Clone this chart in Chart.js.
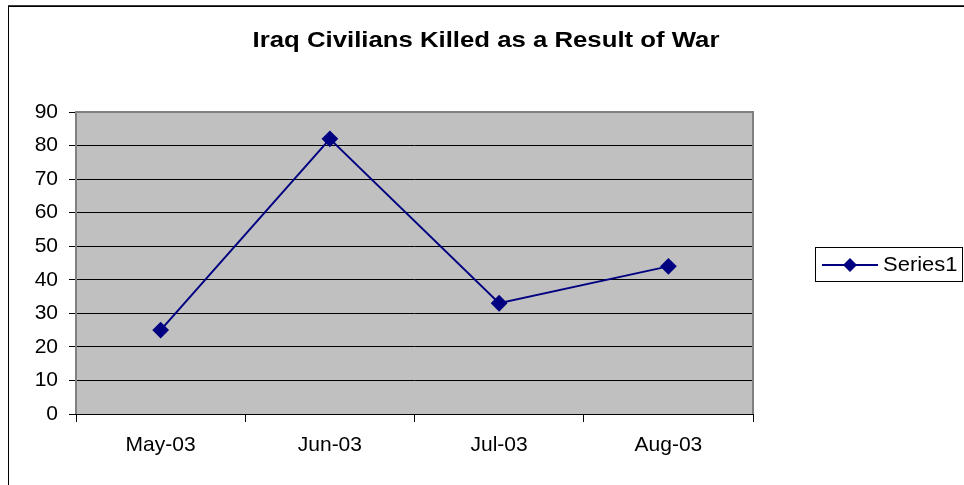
<!DOCTYPE html>
<html>
<head>
<meta charset="utf-8">
<script src="https://cdn.jsdelivr.net/npm/chart.js@4"></script>
<style>
  html, body { margin: 0; padding: 0; background: #fff; }
  #wrap { width: 964px; height: 485px; }
</style>
</head>
<body>
<div id="wrap"><canvas id="myChart" width="964" height="485"></canvas></div>
<script>
// chart data
const months = ['May-03', 'Jun-03', 'Jul-03', 'Aug-03'];
const killed = [25, 82, 33, 44];
const yTicks = [0, 10, 20, 30, 40, 50, 60, 70, 80, 90];
const chartTitle = 'Iraq Civilians Killed as a Result of War';
const seriesName = 'Series1';

const navy = '#000080';
const fontFam = '"Liberation Sans", Arial, sans-serif';
const ctx = document.getElementById('myChart');

// draw text a bit wider than normal, like the old excel export
function wideText(c, txt, x, y, stretch, align) {
    c.save();
    c.translate(x, y);
    c.scale(stretch, 1);
    c.textAlign = align;
    c.fillText(txt, 0, 0);
    c.restore();
}

// excel style frame, plot background, title and legend
const excelLook = {
    id: 'excelLook',
    beforeDraw(chart) {
        const c = chart.ctx;
        const a = chart.chartArea;
        c.save();
        c.fillStyle = '#fff';
        c.fillRect(0, 0, chart.width, chart.height);
        // outer border
        c.strokeStyle = '#000';
        c.lineWidth = 1;
        c.strokeRect(8.5, 6.5, 1200, 1200);
        c.strokeStyle = '#404040';
        c.beginPath();
        c.moveTo(8, 5.5);
        c.lineTo(964, 5.5);
        c.stroke();
        // plot area
        c.fillStyle = '#c0c0c0';
        c.fillRect(a.left, a.top, a.right - a.left, a.bottom - a.top);
        c.restore();
    },
    afterDraw(chart) {
        const c = chart.ctx;
        const a = chart.chartArea;
        c.save();
        // plot border left/top/right
        c.strokeStyle = '#808080';
        c.lineWidth = 2;
        c.beginPath();
        c.moveTo(a.left, a.bottom);
        c.lineTo(a.left, a.top);
        c.lineTo(a.right, a.top);
        c.lineTo(a.right, a.bottom);
        c.stroke();
        // x axis line
        c.strokeStyle = '#000';
        c.lineWidth = 1;
        c.beginPath();
        c.moveTo(a.left, a.bottom + 0.5);
        c.lineTo(a.right, a.bottom + 0.5);
        c.stroke();

        // title
        c.fillStyle = '#000';
        c.font = 'bold 22px ' + fontFam;
        c.textBaseline = 'middle';
        wideText(c, chartTitle, 486, 41, 1.17, 'center');

        // legend
        c.strokeStyle = '#000';
        c.lineWidth = 1;
        c.strokeRect(815.5, 247.5, 147, 34);
        c.strokeStyle = navy;
        c.lineWidth = 2;
        c.beginPath();
        c.moveTo(822, 265);
        c.lineTo(878, 265);
        c.stroke();
        c.fillStyle = navy;
        c.beginPath();
        c.moveTo(850, 258);
        c.lineTo(857, 265);
        c.lineTo(850, 272);
        c.lineTo(843, 265);
        c.closePath();
        c.fill();
        c.fillStyle = '#000';
        c.font = '20px ' + fontFam;
        wideText(c, seriesName, 883, 265, 1.1, 'left');
        c.restore();
    }
};

const chart = new Chart(ctx, {
    type: 'line',
    data: {
        labels: months,
        datasets: [{
            label: seriesName,
            data: killed,
            borderColor: navy,
            backgroundColor: navy,
            borderWidth: 2,
            pointStyle: 'rectRot',
            pointRadius: 7,
            pointHoverRadius: 7,
            tension: 0,
        }]
    },
    options: {
        responsive: false,
        animation: false,
        events: [],
        layout: { padding: { left: 0, top: 112, right: 211, bottom: 0 } },
        plugins: {
            legend: { display: false },
            title: { display: false },
            tooltip: { enabled: false },
        },
        scales: {
            x: {
                offset: true,
                grid: {
                    offset: true,
                    drawOnChartArea: false,
                    tickLength: 8,
                    color: '#000',
                },
                border: { display: false },
                ticks: {
                    color: '#000',
                    padding: 11,
                    maxRotation: 0,
                    font: { family: fontFam, size: 21 },
                },
                afterFit(scale) { scale.height = 71; },
            },
            y: {
                min: 0,
                max: 90,
                afterBuildTicks(scale) { scale.ticks = yTicks.map(v => ({ value: v })); },
                grid: {
                    color: c => (c.tick && c.tick.value === 90 ? '#808080' : '#000'),
                    tickColor: '#000',
                    tickLength: 7,
                },
                border: { display: false },
                ticks: {
                    color: '#000',
                    padding: 11,
                    font: { family: fontFam, size: 21 },
                },
                afterFit(scale) { scale.width = 76; },
            }
        }
    },
    plugins: [excelLook]
});
</script>
</body>
</html>
